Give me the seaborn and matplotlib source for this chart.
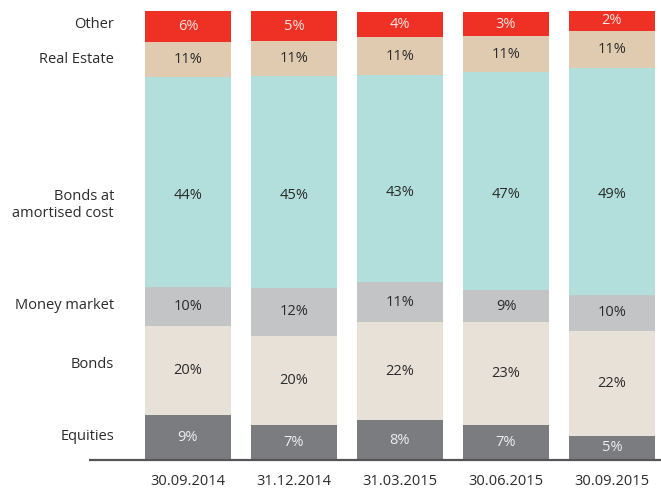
import matplotlib
matplotlib.use("Agg")
import matplotlib.pyplot as plt
import seaborn as sns
import numpy as np
import pandas as pd

# ---- data (bar heights, printed labels as shown) ----
dates = ["30.09.2014", "31.12.2014", "31.03.2015", "30.06.2015", "30.09.2015"]
series = ["Equities", "Bonds", "Money market", "Bonds at\namortised cost", "Real Estate", "Other"]

equities = [10.0, 7.8, 8.9, 7.8, 5.4]
bonds = [19.9, 19.8, 21.8, 22.9, 23.4]
money_market = [8.6, 10.8, 8.9, 7.1, 8.0]
bonds_amortised = [46.8, 47.1, 46.1, 48.6, 50.6]
real_estate = [7.9, 7.9, 8.5, 8.0, 8.2]
other = [6.8, 6.5, 5.6, 5.3, 4.5]

equities_lbl = ["9%", "7%", "8%", "7%", "5%"]
bonds_lbl = ["20%", "20%", "22%", "23%", "22%"]
money_market_lbl = ["10%", "12%", "11%", "9%", "10%"]
bonds_amortised_lbl = ["44%", "45%", "43%", "47%", "49%"]
real_estate_lbl = ["11%", "11%", "11%", "11%", "11%"]
other_lbl = ["6%", "5%", "4%", "3%", "2%"]

# ---- style ----
colors = ["#7b7c80", "#e8e1d7", "#c3c4c6", "#b2dfdb", "#e0cbb0", "#ee3124"]
label_colors = ["#eeeeee", "#2b2b2b", "#2b2b2b", "#2b2b2b", "#2b2b2b", "#fbe3df"]
label_dy = [0, 0, 0, -3.0, 0, 0]
left_label_y = [5.3, 21.2, 34.5, 56.8, 89.1, 96.9]

sns.set_theme(style="white")
plt.rcParams["font.family"] = ["Open Sans", "DejaVu Sans"]
FS = 10.5
TXT = "#2b2b2b"

layers = [equities, bonds, money_market, bonds_amortised, real_estate, other]
labels = [equities_lbl, bonds_lbl, money_market_lbl, bonds_amortised_lbl, real_estate_lbl, other_lbl]

df = pd.DataFrame({s: v for s, v in zip(series, layers)}, index=dates)
cum = df.cumsum(axis=1)

fig = plt.figure(figsize=(6.61, 4.88), dpi=100)
ax = fig.add_axes([90 / 661, 28 / 488, 571 / 661, 449 / 488])

# draw cumulative bars from top layer down
for i in range(len(series) - 1, -1, -1):
    s = series[i]
    sns.barplot(x=dates, y=cum[s].values, order=dates, color=colors[i],
                saturation=1, width=0.81, linewidth=0, ax=ax)

# value labels
for i, s in enumerate(series):
    bottoms = cum[s].values - df[s].values
    centers = bottoms + df[s].values / 2 + label_dy[i]
    for j in range(len(dates)):
        ax.text(j, centers[j], labels[i][j], ha="center", va="center",
                fontsize=FS, color=label_colors[i])

# left category labels
x_left = (114 - 188) / 106
for i, s in enumerate(series):
    ax.text(x_left, left_label_y[i], s, ha="right", va="center",
            fontsize=FS, color=TXT, clip_on=False, linespacing=1.25)

ax.set_xlim((90 - 188) / 106, (661 - 188) / 106)
ax.set_ylim(0, 100)
ax.set_yticks([])
ax.set_xticks(range(len(dates)))
ax.set_xticklabels(dates, fontsize=FS, color=TXT)
ax.tick_params(axis="x", length=0, pad=10)
ax.set_xlabel("")
ax.set_ylabel("")
for sp in ["left", "right", "top"]:
    ax.spines[sp].set_visible(False)
ax.spines["bottom"].set_color("#555555")
ax.spines["bottom"].set_linewidth(1.6)
ax.spines["bottom"].set_zorder(5)

fig.savefig("out.png", dpi=100)
